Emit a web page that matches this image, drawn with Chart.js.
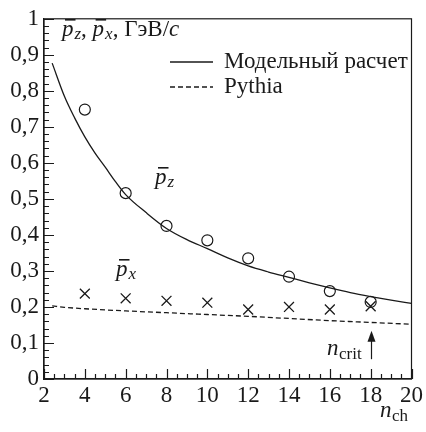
<!DOCTYPE html>
<html>
<head>
<meta charset="utf-8">
<script src="https://cdn.jsdelivr.net/npm/chart.js@4.4.0/dist/chart.umd.min.js"></script>
<style>
  html, body { margin: 0; padding: 0; background: #fff; }
  #wrap { width: 426px; height: 432px; position: relative; }
</style>
</head>
<body>
<div id="wrap"><canvas id="chart"></canvas></div>
<script>
// points (n_ch)
const nch = [4, 6, 8, 10, 12, 14, 16, 18];
const pzMean = [0.748, 0.516, 0.425, 0.385, 0.335, 0.284, 0.244, 0.214];
const pxMean = [0.237, 0.224, 0.217, 0.212, 0.193, 0.200, 0.193, 0.202];

// model curve
const modelX = [2.4, 3, 3.5, 4, 4.5, 5, 5.5, 6, 7, 8, 9, 10, 11, 12, 13, 14, 15, 16, 17, 18, 19, 20];
const modelY = [0.877, 0.785, 0.725, 0.672, 0.627, 0.588, 0.548, 0.512, 0.462, 0.418, 0.387, 0.362, 0.336, 0.314, 0.297, 0.282, 0.267, 0.253, 0.240, 0.229, 0.219, 0.210];

// pythia curve
const pythiaX = [2.4, 3, 4, 6, 8, 10, 12, 14, 16, 18, 20];
const pythiaY = [0.203, 0.199, 0.195, 0.189, 0.184, 0.179, 0.174, 0.168, 0.162, 0.157, 0.152];

const xTicks = [2, 4, 6, 8, 10, 12, 14, 16, 18, 20];
const yTicks = [0, 0.1, 0.2, 0.3, 0.4, 0.5, 0.6, 0.7, 0.8, 0.9, 1];

const SERIF = '"Liberation Serif", "Times New Roman", serif';
const INK = '#1a1a1a';

function pairs(xs, ys) {
  return xs.map((x, i) => ({ x: x, y: ys[i] }));
}

// p with a bar over it and a subscript, returns width used
function pBar(ctx, x, y, sub) {
  ctx.font = 'italic 23px ' + SERIF;
  ctx.fillText('p', x, y);
  const w = ctx.measureText('p').width;
  ctx.fillRect(x + 3, y - 17, w - 1, 1.6);
  ctx.font = 'italic 17px ' + SERIF;
  ctx.fillText(sub, x + w + 1, y + 3);
  return w + 1 + ctx.measureText(sub).width;
}

const decor = {
  id: 'decor',
  afterDraw(chart) {
    const ctx = chart.ctx;
    const a = chart.chartArea;
    const xs = chart.scales.x, ys = chart.scales.y;
    ctx.save();
    ctx.strokeStyle = INK;
    ctx.fillStyle = INK;
    ctx.lineWidth = 1.2;
    ctx.strokeRect(a.left, a.top, a.right - a.left, a.bottom - a.top);

    // inward ticks
    ctx.beginPath();
    for (let i = 0; i <= 36; i++) {
      const px = Math.round(xs.getPixelForValue(2 + i * 0.5)) + 0.5;
      const len = i % 4 === 0 ? 10 : 5;
      ctx.moveTo(px, a.bottom);
      ctx.lineTo(px, a.bottom - len);
    }
    for (let j = 0; j <= 50; j++) {
      const py = Math.round(ys.getPixelForValue(j * 0.02)) + 0.5;
      const len = j % 5 === 0 ? 10 : 5;
      ctx.moveTo(a.left, py);
      ctx.lineTo(a.left + len, py);
    }
    ctx.stroke();

    ctx.textBaseline = 'alphabetic';
    ctx.textAlign = 'left';

    // axis header
    let x = 62;
    x += pBar(ctx, x, 36, 'z');
    ctx.font = '23px ' + SERIF;
    ctx.fillText(',', x, 36); x += ctx.measureText(', ').width;
    x += pBar(ctx, x, 36, 'x');
    ctx.font = '23px ' + SERIF;
    ctx.fillText(', ГэВ/', x, 36); x += ctx.measureText(', ГэВ/').width;
    ctx.font = 'italic 23px ' + SERIF;
    ctx.fillText('c', x, 36);

    // legend
    const ds = chart.data.datasets;
    [[0, 62], [1, 87]].forEach(([k, ly]) => {
      ctx.save();
      ctx.lineWidth = 1.3;
      ctx.setLineDash(ds[k].borderDash || []);
      ctx.beginPath();
      ctx.moveTo(170, ly);
      ctx.lineTo(213, ly);
      ctx.stroke();
      ctx.restore();
      ctx.font = '23px ' + SERIF;
      ctx.textBaseline = 'middle';
      ctx.fillText(ds[k].label, 224, ly);
    });
    ctx.textBaseline = 'alphabetic';

    // curve labels
    pBar(ctx, 155, 184, 'z');
    pBar(ctx, 116, 276, 'x');

    // n_crit and arrow
    ctx.font = 'italic 23px ' + SERIF;
    ctx.fillText('n', 327, 355);
    ctx.font = '17px ' + SERIF;
    ctx.fillText('crit', 339, 359);
    const ax = Math.round(xs.getPixelForValue(18)) + 0.5;
    const tip = ys.getPixelForValue(0.134);
    const tail = ys.getPixelForValue(0.055);
    ctx.beginPath();
    ctx.moveTo(ax, tail);
    ctx.lineTo(ax, tip + 8);
    ctx.stroke();
    ctx.beginPath();
    ctx.moveTo(ax, tip);
    ctx.lineTo(ax - 4, tip + 11);
    ctx.lineTo(ax + 4, tip + 11);
    ctx.closePath();
    ctx.fill();

    // n_ch
    ctx.font = 'italic 23px ' + SERIF;
    ctx.fillText('n', 380, 417);
    ctx.font = '17px ' + SERIF;
    ctx.fillText('ch', 392, 421);
    ctx.restore();
  }
};

new Chart(document.getElementById('chart'), {
  type: 'scatter',
  data: {
    datasets: [
      {
        label: 'Модельный расчет',
        data: pairs(modelX, modelY),
        showLine: true,
        borderColor: INK,
        borderWidth: 1.3,
        pointRadius: 0,
        cubicInterpolationMode: 'monotone'
      },
      {
        label: 'Pythia',
        data: pairs(pythiaX, pythiaY),
        showLine: true,
        borderColor: INK,
        borderWidth: 1.3,
        borderDash: [5, 3],
        pointRadius: 0,
        cubicInterpolationMode: 'monotone'
      },
      {
        label: 'pz',
        data: pairs(nch, pzMean),
        pointStyle: 'circle',
        pointRadius: 5.5,
        borderColor: INK,
        borderWidth: 1.2,
        backgroundColor: 'rgba(0,0,0,0)'
      },
      {
        label: 'px',
        data: pairs(nch, pxMean),
        pointStyle: 'crossRot',
        pointRadius: 7,
        borderColor: INK,
        borderWidth: 1.3,
        backgroundColor: 'rgba(0,0,0,0)'
      }
    ]
  },
  options: {
    responsive: true,
    maintainAspectRatio: false,
    animation: false,
    events: [],
    layout: { padding: { top: 12, right: 12, left: 0, bottom: 0 } },
    plugins: {
      legend: { display: false },
      tooltip: { enabled: false }
    },
    scales: {
      x: {
        type: 'linear',
        min: 2,
        max: 20,
        afterFit: (s) => { s.height = 53; },
        afterBuildTicks: (s) => { s.ticks = xTicks.map(v => ({ value: v })); },
        grid: { display: false, drawTicks: false },
        border: { display: true, color: INK, width: 1.2 },
        ticks: {
          color: INK,
          padding: 3,
          maxRotation: 0,
          autoSkip: false,
          font: { family: SERIF, size: 23 }
        }
      },
      y: {
        min: 0,
        max: 1,
        afterFit: (s) => { s.width = 44; },
        afterBuildTicks: (s) => { s.ticks = yTicks.map(v => ({ value: v })); },
        grid: { display: false, drawTicks: false },
        border: { display: true, color: INK, width: 1.2 },
        ticks: {
          color: INK,
          padding: 5,
          autoSkip: false,
          font: { family: SERIF, size: 23 },
          callback: (v) => String(Math.round(v * 10) / 10).replace('.', ',')
        }
      }
    }
  },
  plugins: [decor]
});
</script>
</body>
</html>
